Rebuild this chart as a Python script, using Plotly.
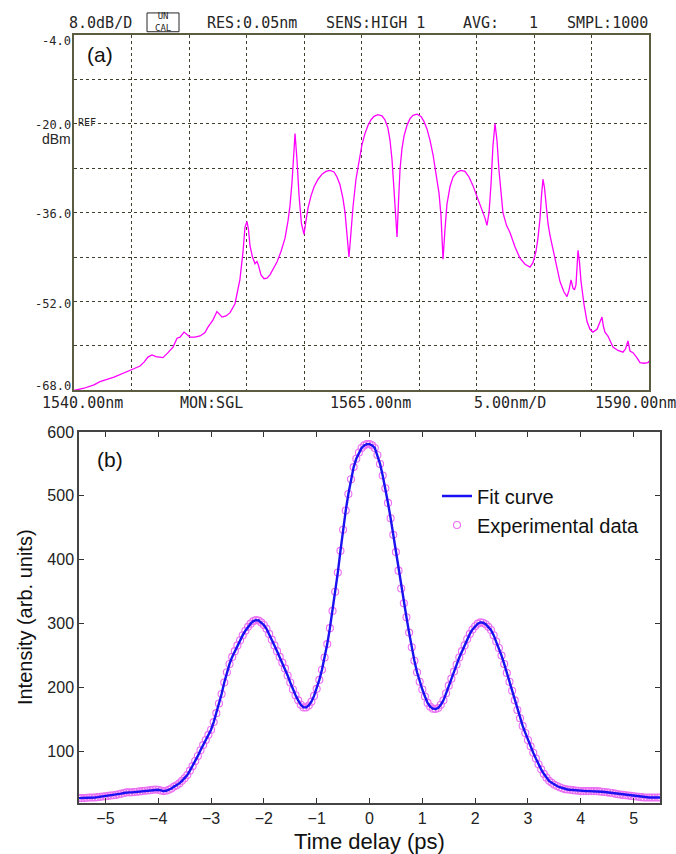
import plotly.graph_objects as go

# ---------------- (a) optical spectrum ----------------
wavelength_nm = [
    1540.00, 1540.87, 1541.74, 1542.26, 1543.48, 1544.35, 1544.87, 1545.30, 1545.74, 1546.09,
    1546.43, 1546.78, 1547.13, 1547.74, 1548.17, 1548.61, 1548.96, 1549.22, 1549.57, 1549.83,
    1550.09, 1550.52, 1550.96, 1551.39, 1551.65, 1552.09, 1552.43, 1552.70, 1552.87, 1553.22,
    1553.57, 1554.00, 1554.43, 1554.70, 1554.87, 1555.04, 1555.17, 1555.30, 1555.52, 1555.74,
    1555.91, 1556.04, 1556.26, 1556.52, 1556.78, 1557.04, 1557.30, 1557.65, 1558.00, 1558.35,
    1558.61, 1558.78, 1558.96, 1559.09, 1559.22, 1559.39, 1559.57, 1559.78, 1560.00, 1560.17,
    1560.35, 1560.61, 1560.87, 1561.22, 1561.57, 1561.91, 1562.26, 1562.61, 1562.87, 1563.13,
    1563.39, 1563.57, 1563.74, 1563.91, 1564.09, 1564.26, 1564.52, 1564.78, 1565.04, 1565.30,
    1565.57, 1565.83, 1566.09, 1566.43, 1566.78, 1567.04, 1567.30, 1567.48, 1567.65, 1567.83,
    1567.96, 1568.09, 1568.22, 1568.35, 1568.52, 1568.70, 1568.96, 1569.22, 1569.48, 1569.83,
    1570.17, 1570.43, 1570.70, 1570.96, 1571.22, 1571.48, 1571.74, 1571.91, 1572.09, 1572.26,
    1572.43, 1572.70, 1572.96, 1573.30, 1573.65, 1574.00, 1574.35, 1574.70, 1575.04, 1575.39,
    1575.74, 1575.91, 1576.09, 1576.26, 1576.43, 1576.61, 1576.78, 1576.96, 1577.13, 1577.30,
    1577.61, 1577.91, 1578.35, 1578.78, 1579.22, 1579.65, 1579.91, 1580.17, 1580.35, 1580.52,
    1580.65, 1580.78, 1580.91, 1581.04, 1581.22, 1581.39, 1581.83, 1582.26, 1582.61, 1582.87,
    1583.04, 1583.22, 1583.39, 1583.52, 1583.65, 1583.74, 1583.83, 1583.96, 1584.09, 1584.35,
    1584.61, 1584.87, 1585.13, 1585.48, 1585.74, 1585.91, 1586.04, 1586.17, 1586.43, 1586.87,
    1587.30, 1587.74, 1587.96, 1588.17, 1588.35, 1588.61, 1588.91, 1589.22, 1589.57, 1589.91,
    1590.00,
]
power_dbm = [
    -68.0, -67.6, -67.0, -66.4, -65.6, -64.9, -64.4, -64.0, -63.6, -62.9,
    -62.0, -61.6, -61.9, -62.1, -61.2, -60.2, -58.6, -58.4, -57.5, -58.0,
    -58.4, -58.4, -58.2, -57.6, -56.6, -55.3, -53.8, -54.4, -54.8, -54.6,
    -54.0, -52.4, -48.0, -43.0, -38.6, -37.6, -39.0, -41.9, -44.0, -45.2,
    -44.8, -45.5, -47.2, -47.9, -47.8, -47.2, -46.3, -44.9, -43.0, -40.6,
    -37.5, -34.8, -30.5, -26.0, -21.8, -26.5, -33.0, -38.0, -39.9, -37.5,
    -35.2, -33.0, -31.4, -30.0, -29.1, -28.6, -28.4, -28.7, -29.6, -31.0,
    -33.5, -36.0, -39.5, -44.0, -39.5, -35.0, -30.0, -26.5, -23.8, -21.8,
    -20.3, -19.3, -18.7, -18.4, -18.6, -19.3, -20.8, -23.0, -26.4, -32.0,
    -37.0, -40.4, -34.0, -28.2, -24.5, -22.2, -20.3, -19.1, -18.5, -18.3,
    -18.7, -19.6, -21.0, -23.0, -25.6, -28.7, -32.5, -36.5, -44.4, -39.0,
    -34.5, -31.3, -29.6, -28.7, -28.4, -28.6, -29.6, -31.2, -33.0, -34.8,
    -37.0, -38.3, -36.0, -31.0, -24.0, -20.0, -23.0, -28.5, -33.0, -36.0,
    -38.3, -39.6, -42.2, -44.2, -45.3, -45.8, -45.0, -43.0, -40.5, -37.1,
    -33.0, -30.0, -31.5, -34.5, -38.0, -40.1, -44.5, -48.4, -50.3, -51.1,
    -50.0, -48.1, -49.6, -49.9, -49.0, -45.5, -42.8, -45.0, -48.4, -52.5,
    -55.6, -57.0, -57.5, -57.0, -55.5, -54.8, -56.5, -57.5, -58.2, -60.2,
    -60.8, -61.1, -60.5, -59.1, -60.9, -61.2, -62.0, -63.0, -63.1, -63.0,
    -62.7,
]
power_grid = [-4, -12, -20, -28, -36, -44, -52, -60, -68]
power_label_vals = [-4, -20, -36, -52, -68]
power_label_text = ["-4.0", "-20.0", "-36.0", "-52.0", "-68.0"]
wl_grid = [1540 + 5 * k for k in range(11)]

header_items = ["8.0dB/D", "RES:0.05nm", "SENS:HIGH 1", "AVG:", "1", "SMPL:1000"]
footer_items = ["1540.00nm", "MON:SGL", "1565.00nm", "5.00nm/D", "1590.00nm"]

# ---------------- (b) autocorrelation trace ----------------
delay_ps = [round(-5.5 + 0.05 * i, 2) for i in range(221)]
intensity = [
    27, 27, 27, 27.5, 28, 28, 28, 28.5, 29, 29.5, 30, 30.5, 31, 31.5, 32, 33, 34, 35, 36, 36,
    36, 36.5, 37, 37.5, 38, 38.5, 39, 39.5, 40, 40.5, 40, 39, 38, 38.5, 40, 42, 45, 47, 50, 54,
    58, 63, 70, 77, 85, 93, 102, 110, 118, 126, 134, 146, 160, 175, 190, 208, 224, 237, 248, 257,
    266, 274, 282, 289, 295, 300, 304, 305.5, 305, 302, 298, 292, 284, 275, 266, 257, 248, 239, 230, 219,
    208, 197, 188, 180, 173, 169, 169, 172, 178, 187, 198, 212, 228, 247, 268, 293, 320, 350, 380, 414,
    447, 477, 503, 526, 545, 558, 568, 575, 579, 581, 581, 579, 575, 564, 550, 532, 512, 489, 465, 439,
    412, 383, 355, 332, 310, 286, 263, 242, 224, 209, 197, 186, 176, 170, 167, 166.5, 168, 173, 180, 191,
    203, 214, 225, 236, 247, 257, 266, 276, 284, 291, 296, 300, 302, 301.5, 299, 295, 290, 282, 272, 262,
    250, 237, 223, 209, 195, 180, 165, 152, 140, 129, 118, 108, 98, 89, 80, 72, 65, 59, 54, 51,
    48, 46, 44, 42.5, 41, 40.5, 40, 39.5, 39, 38.5, 38, 38, 38, 38, 38, 38, 38, 37.5, 37, 36.5,
    36, 35.5, 35, 34, 33, 32.5, 32, 31.5, 31, 30.5, 30, 29.5, 29, 28.5, 28, 28, 28, 28, 28, 28,
    28,
]
delay_ticks = [-5, -4, -3, -2, -1, 0, 1, 2, 3, 4, 5]
intensity_ticks = [100, 200, 300, 400, 500, 600]

W, H = 676, 854


def px(x):
    return x / W


def py(y):
    return 1 - y / H


MONO = "DejaVu Sans Mono"
SANS = "Liberation Sans, Arial, sans-serif"
OLIVE = "#5c5c40"
INK = "#262626"

fig = go.Figure()

fig.add_trace(go.Scatter(
    x=wavelength_nm, y=power_dbm, mode="lines",
    line=dict(color="#ff00ff", width=1.3),
    xaxis="x", yaxis="y", showlegend=False, hoverinfo="skip",
))

fig.add_trace(go.Scatter(
    x=delay_ps, y=intensity, mode="markers", name="Experimental data",
    marker=dict(symbol="circle-open", size=7, color="#ec6ff2",
                line=dict(width=1.1, color="#ec6ff2")),
    xaxis="x2", yaxis="y2", legendrank=2,
))
fig.add_trace(go.Scatter(
    x=delay_ps, y=intensity, mode="lines", name="Fit curve",
    line=dict(color="#1a10f0", width=2.4),
    xaxis="x2", yaxis="y2", legendrank=1,
))

annotations = []

# instrument header line
header_x = [100, 252, 375, 481, 533, 607]
for txt, cx in zip(header_items, header_x):
    annotations.append(dict(text=txt, x=px(cx), y=py(15), xref="paper", yref="paper",
                            showarrow=False, xanchor="center", yanchor="middle",
                            font=dict(family=MONO, size=15, color=INK)))
annotations.append(dict(text="UN<br>CAL", x=px(163), y=py(14), xref="paper", yref="paper",
                        showarrow=False, xanchor="center", yanchor="middle",
                        font=dict(family=MONO, size=9, color=INK)))

# instrument footer line
footer_x = [82, 211, 370, 510, 635]
for txt, cx in zip(footer_items, footer_x):
    annotations.append(dict(text=txt, x=px(cx), y=py(400), xref="paper", yref="paper",
                            showarrow=False, xanchor="center", yanchor="middle",
                            font=dict(family=MONO, size=15, color=INK)))

# level labels on the left edge of the screen
level_shift = [-6, -1, -1, -2, 4]
for val, txt, dy in zip(power_label_vals, power_label_text, level_shift):
    annotations.append(dict(text=txt, x=px(73), y=val, xref="paper", yref="y",
                            yshift=dy, showarrow=False, xanchor="right", yanchor="middle",
                            font=dict(family=MONO, size=12, color=INK)))

annotations += [
    dict(text="REF", x=px(76), y=py(116), xref="paper", yref="paper", showarrow=False,
         xanchor="left", yanchor="middle", font=dict(family=MONO, size=10, color=INK)),
    dict(text="dBm", x=px(73), y=py(133), xref="paper", yref="paper", showarrow=False,
         xanchor="right", yanchor="middle", font=dict(family=SANS, size=14, color=INK)),
    dict(text="(a)", x=px(85), y=py(47), xref="paper", yref="paper", showarrow=False,
         xanchor="left", yanchor="middle", font=dict(family=SANS, size=21, color="#111")),
    dict(text="(b)", x=px(95), y=py(457), xref="paper", yref="paper", showarrow=False,
         xanchor="left", yanchor="middle", font=dict(family=SANS, size=21, color="#111")),
]

fig.update_layout(
    width=W, height=H,
    margin=dict(l=0, r=0, t=0, b=0),
    paper_bgcolor="white", plot_bgcolor="white",
    showlegend=True,
    legend=dict(x=px(437), y=py(474), xanchor="left", yanchor="top",
                bgcolor="rgba(0,0,0,0)", borderwidth=0, itemwidth=30,
                tracegroupgap=0,
                font=dict(family=SANS, size=20, color="#111")),
    xaxis=dict(
        domain=[px(74), px(649)], range=[1540, 1590],
        tickvals=wl_grid, showticklabels=False, ticks="",
        showgrid=True, gridcolor="#3e3e2a", gridwidth=1.3, griddash="dot",
        showline=True, mirror=True, linecolor=OLIVE, linewidth=2,
        zeroline=False, anchor="y",
    ),
    yaxis=dict(
        domain=[py(387), py(27)], range=[-68, -4],
        tickvals=power_grid, showticklabels=False, ticks="",
        showgrid=True, gridcolor="#3e3e2a", gridwidth=1.3, griddash="dot",
        showline=True, mirror=True, linecolor=OLIVE, linewidth=2,
        zeroline=False, anchor="x",
    ),
    xaxis2=dict(
        domain=[px(79), px(660)], range=[-5.5, 5.5],
        tickvals=delay_ticks, ticks="inside", ticklen=5, tickwidth=1.2, tickcolor="#333",
        tickfont=dict(family=SANS, size=16, color="#222"),
        showgrid=False, zeroline=False,
        showline=True, mirror="ticks", linecolor="#444", linewidth=1.5,
        title=dict(text="Time delay (ps)", font=dict(family=SANS, size=22, color="#111"),
                   standoff=12),
        anchor="y2",
    ),
    yaxis2=dict(
        domain=[py(804), py(429)], range=[20, 600],
        tickvals=intensity_ticks, ticks="inside", ticklen=5, tickwidth=1.2, tickcolor="#333",
        tickfont=dict(family=SANS, size=16, color="#222"),
        showgrid=False, zeroline=False,
        showline=True, mirror="ticks", linecolor="#444", linewidth=1.5,
        title=dict(text="Intensity (arb. units)", font=dict(family=SANS, size=20, color="#111"),
                   standoff=9),
        anchor="x2",
    ),
    annotations=annotations,
    shapes=[dict(type="rect", xref="paper", yref="paper",
                 x0=px(147), x1=px(179), y0=py(24), y1=py(5),
                 line=dict(color=INK, width=1))],
)

fig.write_html("out.html")
